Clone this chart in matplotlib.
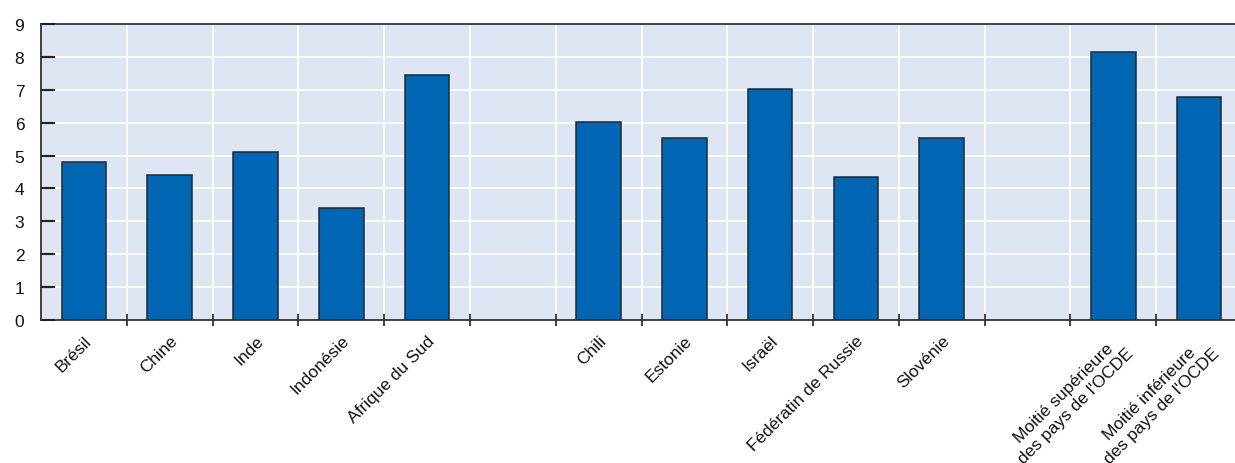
import matplotlib
matplotlib.use("Agg")
import matplotlib.pyplot as plt
import numpy as np

plt.rcParams['font.family'] = ['Liberation Sans', 'DejaVu Sans']

categories = ["Brésil", "Chine", "Inde", "Indonésie", "Afrique du Sud", "",
              "Chili", "Estonie", "Israël", "Fédératin de Russie", "Slovénie", "",
              "Moitié supérieure\ndes pays de l'OCDE", "Moitié inférieure\ndes pays de l'OCDE"]
values = [4.81, 4.40, 5.11, 3.40, 7.44, np.nan,
          6.02, 5.52, 7.02, 4.35, 5.52, np.nan,
          8.14, 6.77]
y_ticks = list(range(0, 10))

fig = plt.figure(figsize=(12.35, 4.64), dpi=100)
ax_w_px = 1242 - 41
ax = fig.add_axes([41/1235, (464-321)/464, ax_w_px/1235, (321-25)/464])
ax.set_facecolor('#dfe6f3')
ax.set_axisbelow(False)

x = np.arange(len(categories))
ax.bar(x, values, width=0.52, color='#0066b3', edgecolor='#1f2a33', linewidth=1.1, zorder=3)

ax.set_xlim(-0.5, len(categories) - 0.5)
ax.set_ylim(0, 9)

# grid
for b in np.arange(0.5, len(categories) - 0.5, 1.0):
    ax.axvline(b, color='white', linewidth=1.3, zorder=0.2)
for yv in y_ticks[1:-1]:
    ax.axhline(yv, color='white', linewidth=1.3, zorder=0.2)

ax.set_yticks(y_ticks)
ax.tick_params(axis='y', which='major', left=True, right=False, labelleft=True,
               direction='in', length=10, width=1.5,
               color='#222222', labelsize=12.5, pad=12, labelcolor='#111111')
# inward tick marks (explicit, in axes-fraction x so they stay at the left spine)
ax.hlines(y_ticks[1:-1], 0, 11 / ax_w_px, transform=ax.get_yaxis_transform(),
          color='#222222', linewidth=1.5, zorder=4, clip_on=False)

# x ticks at slot boundaries
ax.set_xticks(np.arange(0.5, len(categories) - 0.5, 1.0), minor=False)
ax.set_xticklabels([])
ax.tick_params(axis='x', which='major', bottom=True, direction='inout', length=8,
               width=1.3, color='#333333')
ax.set_xticks(x, minor=True)
ax.set_xticklabels(categories, minor=True, rotation=45, ha='right',
                   rotation_mode='anchor', fontsize=12.5, color='#111111',
                   multialignment='center')
ax.tick_params(axis='x', which='minor', length=0, pad=9)

for s in ['top', 'bottom', 'left']:
    ax.spines[s].set_color('#333333')
    ax.spines[s].set_linewidth(1.3)
ax.spines['right'].set_visible(False)

fig.savefig('out.png', dpi=100)
